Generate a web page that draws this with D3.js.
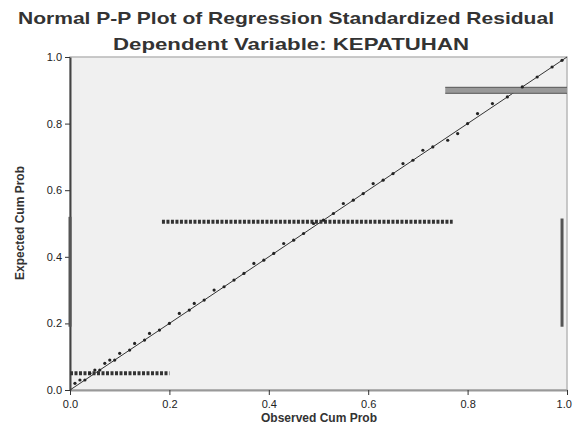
<!DOCTYPE html>
<html>
<head>
<meta charset="utf-8">
<script src="https://cdn.jsdelivr.net/npm/d3@7"></script>
<style>
  body { margin: 0; background: #fff; }
  text { font-family: "Liberation Sans", Arial, sans-serif; }
</style>
</head>
<body>
<script>
// observed / expected cumulative probabilities
var obsProb = [0.01,0.02,0.03,0.04,0.05,0.06,0.07,0.08,0.09,0.10,0.12,0.13,0.15,0.16,0.18,0.20,0.22,0.24,0.25,0.27,0.29,0.31,0.33,0.35,0.37,0.39,0.41,0.43,0.45,0.47,0.49,0.51,0.53,0.55,0.57,0.59,0.61,0.63,0.65,0.67,0.69,0.71,0.73,0.76,0.78,0.80,0.82,0.85,0.88,0.91,0.94,0.97,0.99];
var expProb = [0.02,0.03,0.03,0.05,0.06,0.06,0.08,0.09,0.09,0.11,0.12,0.14,0.15,0.17,0.18,0.20,0.23,0.24,0.26,0.27,0.30,0.31,0.33,0.35,0.38,0.39,0.41,0.44,0.45,0.47,0.50,0.51,0.53,0.56,0.57,0.59,0.62,0.63,0.65,0.68,0.69,0.72,0.73,0.75,0.77,0.80,0.83,0.86,0.88,0.91,0.94,0.97,0.99];

// horizontal runs of tied points
var bandExp  = [0.05, 0.505, 0.90];
var bandFrom = [0.0, 0.185, 0.755];
var bandTo   = [0.2, 0.77, 1.0];

// vertical runs at the edges
var edgeObs  = [0.0, 0.99];
var edgeFrom = [0.19, 0.19];
var edgeTo   = [0.52, 0.515];

var xTicks = [0, 0.2, 0.4, 0.6, 0.8, 1.0];
var yTicks = [0, 0.2, 0.4, 0.6, 0.8, 1.0];

var W = 573, H = 432;
var padL = 70, padR = 567, padT = 57, padB = 390;

var svg = d3.select("body").append("svg")
  .attr("width", W).attr("height", H);

var x = d3.scaleLinear().domain([0, 1]).range([padL, padR]);
var y = d3.scaleLinear().domain([0, 1]).range([padB, padT]);

// titles
svg.append("text")
  .attr("x", 286).attr("y", 24)
  .attr("text-anchor", "middle")
  .attr("font-size", 17).attr("font-weight", "bold")
  .attr("textLength", 536).attr("lengthAdjust", "spacingAndGlyphs")
  .attr("fill", "#333")
  .text("Normal P-P Plot of Regression Standardized Residual");
svg.append("text")
  .attr("x", 291).attr("y", 50)
  .attr("text-anchor", "middle")
  .attr("font-size", 17).attr("font-weight", "bold")
  .attr("textLength", 356).attr("lengthAdjust", "spacingAndGlyphs")
  .attr("fill", "#333")
  .text("Dependent Variable: KEPATUHAN");

// plot area
svg.append("rect")
  .attr("x", padL).attr("y", padT)
  .attr("width", padR - padL).attr("height", padB - padT)
  .attr("fill", "#f0f0f0")
  .attr("stroke", "#b8b8b8").attr("stroke-width", 1.5);

// axes
var xAxis = d3.axisBottom(x).tickValues(xTicks).tickFormat(d3.format(".1f")).tickSize(5).tickSizeOuter(0);
var yAxis = d3.axisLeft(y).tickValues(yTicks).tickFormat(d3.format(".1f")).tickSize(5).tickSizeOuter(0);

var gx = svg.append("g").attr("transform", "translate(0," + padB + ")").call(xAxis);
gx.select(".domain").attr("stroke", "#999").attr("stroke-width", 2);
gx.selectAll(".tick line").attr("stroke", "#333");
gx.selectAll("text").attr("font-size", 11).attr("fill", "#222").attr("dy", "0.9em");
gx.selectAll("text").filter(function(d){ return d == 1 }).attr("text-anchor", "end").attr("dx", "0.4em");

var gy = svg.append("g").attr("transform", "translate(" + padL + ",0)").call(yAxis);
gy.select(".domain").attr("stroke", "#444").attr("stroke-width", 2);
gy.selectAll(".tick line").attr("stroke", "#333");
gy.selectAll("text").attr("font-size", 11).attr("fill", "#222");

// axis titles
svg.append("text")
  .attr("x", 319).attr("y", 422)
  .attr("text-anchor", "middle").attr("font-size", 12).attr("font-weight", "bold")
  .attr("fill", "#333")
  .text("Observed Cum Prob");
svg.append("text")
  .attr("transform", "translate(24,223) rotate(-90)")
  .attr("text-anchor", "middle").attr("font-size", 12).attr("font-weight", "bold")
  .attr("fill", "#333")
  .text("Expected Cum Prob");

// reference diagonal
svg.append("line")
  .attr("x1", x(0)).attr("y1", y(0))
  .attr("x2", x(1)).attr("y2", y(1))
  .attr("stroke", "#333").attr("stroke-width", 1);

// vertical runs
svg.selectAll(".edge")
  .data(edgeObs)
  .enter()
  .append("line")
  .attr("class", "edge")
  .attr("x1", function(d){ return x(d) })
  .attr("x2", function(d){ return x(d) })
  .attr("y1", function(d, i){ return y(edgeFrom[i]) })
  .attr("y2", function(d, i){ return y(edgeTo[i]) })
  .attr("stroke", "#555").attr("stroke-width", 3);

// horizontal runs
svg.selectAll(".band")
  .data(bandExp)
  .enter()
  .append("line")
  .attr("class", "band")
  .attr("x1", function(d, i){ return x(bandFrom[i]) })
  .attr("x2", function(d, i){ return x(bandTo[i]) })
  .attr("y1", function(d){ return y(d) })
  .attr("y2", function(d){ return y(d) })
  .attr("stroke", function(d, i){ return i == 2 ? "#999" : "#333" })
  .attr("stroke-width", function(d, i){ return i == 2 ? 6 : 4 })
  .attr("stroke-dasharray", function(d, i){ return i == 2 ? null : "3,1.5" });
svg.selectAll(".bandedge")
  .data([bandExp[2] + 0.009, bandExp[2] - 0.009])
  .enter()
  .append("line")
  .attr("x1", x(bandFrom[2])).attr("x2", x(bandTo[2]))
  .attr("y1", function(d){ return y(d) }).attr("y2", function(d){ return y(d) })
  .attr("stroke", "#555").attr("stroke-width", 1);

// points along the diagonal
svg.selectAll(".pt")
  .data(obsProb)
  .enter()
  .append("circle")
  .attr("class", "pt")
  .attr("cx", function(d){ return x(d) })
  .attr("cy", function(d, i){ return y(expProb[i]) })
  .attr("r", 1.6)
  .attr("fill", "#222");
</script>
</body>
</html>
